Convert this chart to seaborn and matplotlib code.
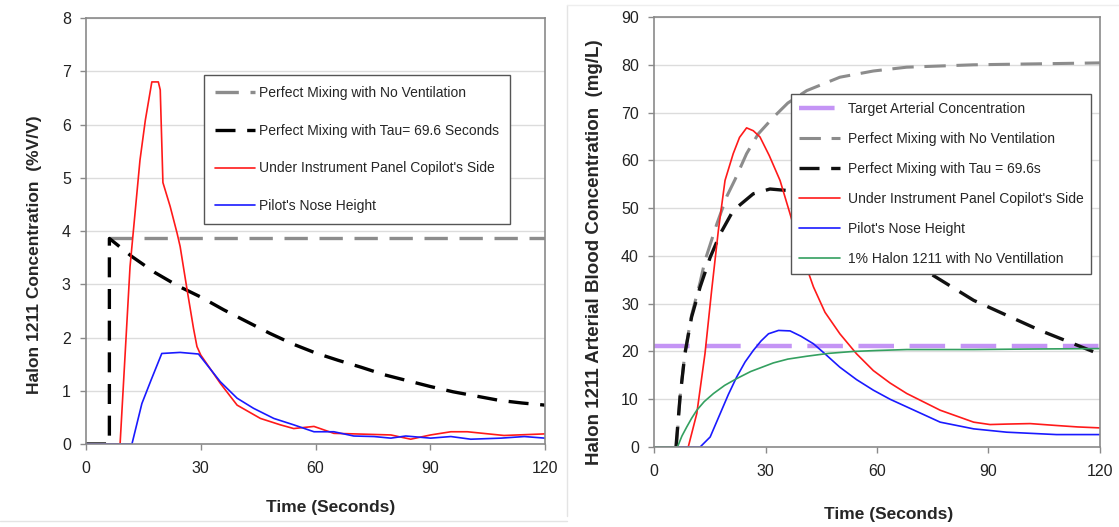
import numpy as np
import pandas as pd
import seaborn as sns
import matplotlib.pyplot as plt
from matplotlib.lines import Line2D

# ---- left panel data (% V/V) ----
left_nv_t = [6.1, 120]
left_nv_c = [3.86, 3.86]
left_tau_t = [0, 6.1, 6.1, 12, 18, 24, 30, 36, 42, 48, 54, 60, 66, 72, 78, 84, 90, 96, 102, 108, 114, 120]
left_tau_c = [0, 0, 3.86, 3.52, 3.22, 2.97, 2.76, 2.52, 2.30, 2.08, 1.88, 1.71, 1.57, 1.44, 1.30, 1.19,
              1.08, 0.98, 0.90, 0.82, 0.77, 0.73]
left_red_t = [0, 8.9, 11.5, 14.1, 15.5, 17.2, 18.9, 19.4, 20.1, 22, 23.8, 24.6, 26.3, 28.1, 29, 30, 35.1,
              39.5, 45.6, 50.8, 54.3, 59.6, 64.8, 70, 79.7, 84.9, 90.1, 95.4, 99.7, 109.3, 120]
left_red_c = [0, 0, 3.33, 5.33, 6.08, 6.80, 6.80, 6.65, 4.91, 4.46, 3.96, 3.71, 2.95, 2.17, 1.83, 1.67, 1.14,
              0.73, 0.48, 0.36, 0.29, 0.33, 0.20, 0.19, 0.17, 0.09, 0.17, 0.23, 0.23, 0.16, 0.19]
left_blue_t = [0, 12, 14.6, 17, 19.8, 24.6, 29.4, 35.1, 39.5, 43.8, 49.1, 54.3, 59.6, 64.8, 70, 75.3, 79.7,
               83.6, 90.1, 95.4, 100.6, 108.5, 114.6, 120]
left_blue_c = [0, 0, 0.76, 1.2, 1.70, 1.72, 1.69, 1.17, 0.86, 0.67, 0.48, 0.36, 0.23, 0.23, 0.15, 0.14, 0.11,
               0.15, 0.11, 0.14, 0.09, 0.11, 0.14, 0.11]

# ---- right panel data (mg/L) ----
target_t = [0, 120]
target_c = [21.1, 21.1]
right_nv_t = [6, 7, 8.3, 10.1, 12.4, 13.7, 16.9, 19.6, 21.8, 24.9, 28, 32.1, 36, 41.1, 50, 59, 68, 86, 120]
right_nv_c = [0, 10.5, 19.7, 27.6, 34.5, 39.0, 46.7, 52.5, 56.0, 61.4, 65.5, 69.0, 72.0, 74.6, 77.4, 78.7,
              79.5, 80.0, 80.4]
right_tau_t = [5.9, 7.0, 8.3, 10.1, 12.4, 15.1, 17.8, 21.3, 26.7, 31.2, 35.7, 45, 55, 65, 74.3, 86,
               103.9, 120]
right_tau_c = [0, 10.5, 19.5, 27.2, 33.5, 39.7, 44.6, 49.5, 53.0, 54.0, 53.7, 50.5, 46.0, 41.2, 36.3,
               30.7, 24.4, 19.4]
right_red_t = [0, 9.2, 11.5, 13.7, 15.5, 17.3, 19.1, 21.3, 23, 24.9, 26.7, 28.5, 31, 33.9, 36.6, 39.5,
               42.9, 46, 50, 54.5, 59, 63.5, 68, 77, 86, 90.4, 95, 101.2, 108.3, 114, 120]
right_red_c = [0, 0, 7.0, 19.5, 32.8, 45.3, 55.8, 61.4, 64.8, 66.8, 66.2, 64.9, 61.0, 55.8, 48.8, 41.0,
               33.5, 28.2, 23.7, 19.5, 16.0, 13.4, 11.2, 7.7, 5.2, 4.7, 4.8, 4.9, 4.5, 4.2, 4.0]
right_blue_t = [0, 12.4, 15.1, 17.8, 20, 22.2, 24.5, 26.7, 28.8, 30.8, 33.5, 36.6, 39.5, 42.9, 46, 50,
                54.5, 59, 63.5, 68, 77, 86, 94.9, 108.3, 120]
right_blue_c = [0, 0, 2.1, 7.0, 11.0, 14.6, 17.8, 20.2, 22.2, 23.7, 24.4, 24.3, 23.2, 21.6, 19.5, 16.7,
                14.1, 11.9, 10.0, 8.4, 5.2, 3.8, 3.1, 2.6, 2.6]
right_green_t = [0, 6.3, 7.5, 8.8, 10.1, 11.5, 13.5, 16.0, 19, 22.2, 26, 32.1, 36, 41.1, 47, 53.6, 60, 68,
                 86, 100, 120]
right_green_c = [0, 0, 2.3, 4.2, 6.0, 7.7, 9.5, 11.2, 12.9, 14.3, 15.8, 17.6, 18.4, 19.0, 19.6, 20.0, 20.2,
                 20.4, 20.4, 20.5, 20.6]

sns.set_theme(style="white")
plt.rcParams['font.family'] = ['Liberation Sans', 'DejaVu Sans']

fig = plt.figure(figsize=(11.19, 5.27), dpi=100)
ax1 = fig.add_axes([0.0769, 0.1575, 0.4101, 0.8083])
ax2 = fig.add_axes([0.5845, 0.1518, 0.3985, 0.8159])


def draw(ax, t, c, label, **kw):
    df = pd.DataFrame({'t': t, 'c': c})
    sns.lineplot(data=df, x='t', y='c', ax=ax, label=label, sort=False, estimator=None, **kw)


# left chart
draw(ax1, left_nv_t, left_nv_c, 'Perfect Mixing with No Ventilation', color='#8c8c8c', lw=2.4,
     dashes=(7, 3.5))
draw(ax1, left_tau_t, left_tau_c, 'Perfect Mixing with Tau= 69.6 Seconds', color='black', lw=2.4,
     dashes=(6, 3.5))
draw(ax1, left_red_t, left_red_c, "Under Instrument Panel Copilot's Side", color='#ff1a1a', lw=1.2)
draw(ax1, left_blue_t, left_blue_c, "Pilot's Nose Height", color='#1a1aff', lw=1.2)

# right chart
draw(ax2, target_t, target_c, 'Target Arterial Concentration', color='#c494f5', lw=3.2, dashes=(8, 3.5))
draw(ax2, right_nv_t, right_nv_c, 'Perfect Mixing with No Ventilation', color='#8c8c8c', lw=2.2,
     dashes=(7, 3.5))
draw(ax2, right_tau_t, right_tau_c, 'Perfect Mixing with Tau = 69.6s', color='#111111', lw=2.4,
     dashes=(6, 3.5))
draw(ax2, right_red_t, right_red_c, "Under Instrument Panel Copilot's Side", color='#ff1a1a', lw=1.2)
draw(ax2, right_blue_t, right_blue_c, "Pilot's Nose Height", color='#1a1aff', lw=1.2)
draw(ax2, right_green_t, right_green_c, '1% Halon 1211 with No Ventillation', color='#34a060', lw=1.2)

for ax, ymax, ystep in [(ax1, 8, 1), (ax2, 90, 10)]:
    ax.set_xlim(0, 120)
    ax.set_ylim(0, ymax)
    ax.set_xticks([0, 30, 60, 90, 120])
    ax.set_yticks(np.arange(0, ymax + ystep, ystep))
    ax.grid(axis='y', color='#dcdcdc', lw=1)
    ax.grid(axis='x', visible=False)
    for s in ax.spines.values():
        s.set_color('#8a8a8a')
        s.set_linewidth(1.2)
    ax.tick_params(axis='both', labelsize=11.5, length=4, width=1, direction='out',
                   left=True, bottom=True, colors='#8a8a8a', labelcolor='#222222')
    ax.tick_params(axis='x', pad=8)
    ax.tick_params(axis='y', pad=7)

ax1.set_xlabel('Time (Seconds)', fontsize=12.5, fontweight='bold')
ax1.set_ylabel('Halon 1211 Concentration  (%V/V)', fontsize=12.5, fontweight='bold')
ax2.set_xlabel('Time (Seconds)', fontsize=12.5, fontweight='bold')
ax2.set_ylabel('Halon 1211 Arterial Blood Concentration  (mg/L)', fontsize=13.5, fontweight='bold')
ax1.xaxis.set_label_coords(0.532, -0.131)
ax1.yaxis.set_label_coords(-0.096, 0.444)
ax2.xaxis.set_label_coords(0.525, -0.140)
ax2.yaxis.set_label_coords(-0.114, 0.453)

leg1 = ax1.legend(loc='upper left', bbox_to_anchor=(0.257, 0.866), borderaxespad=0, fontsize=10,
                  handlelength=2.9, handletextpad=0.25, labelspacing=1.7, borderpad=0.8,
                  fancybox=False, framealpha=1, edgecolor='#555555')
leg1.get_frame().set_linewidth(1)
leg2 = ax2.legend(loc='upper left', bbox_to_anchor=(0.307, 0.821), borderaxespad=0, fontsize=10,
                  handlelength=2.95, handletextpad=0.58, labelspacing=1.16, borderpad=0.55,
                  fancybox=False, framealpha=1, edgecolor='#555555')
leg2.get_frame().set_linewidth(1)

# faint panel frames
fig.add_artist(Line2D([0.507, 0.507], [0.02, 0.99], color='#e4e4e4', lw=1, transform=fig.transFigure))
fig.add_artist(Line2D([0.0, 0.507], [0.012, 0.012], color='#e4e4e4', lw=1, transform=fig.transFigure))
fig.add_artist(Line2D([0.507, 1.0], [0.99, 0.99], color='#eeeeee', lw=1, transform=fig.transFigure))

fig.savefig('out.png', dpi=100)
